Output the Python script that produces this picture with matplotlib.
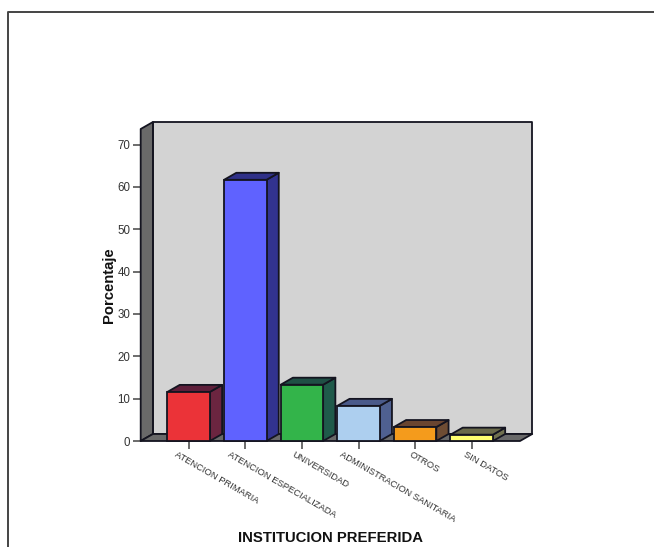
import matplotlib
matplotlib.use("Agg")
import matplotlib.pyplot as plt
from matplotlib.lines import Line2D
from matplotlib.patches import Polygon

plt.rcParams["font.family"] = ["Liberation Sans", "DejaVu Sans"]

categories = ["ATENCION PRIMARIA", "ATENCION ESPECIALIZADA", "UNIVERSIDAD",
              "ADMINISTRACION SANITARIA", "OTROS", "SIN DATOS"]
percent = [11.6, 61.7, 13.3, 8.3, 3.3, 1.5]
y_ticks = [0, 10, 20, 30, 40, 50, 60, 70]

front_colors = ["#EB3338", "#5F62FF", "#33B44A", "#ADCFEF", "#F49B1C", "#FFFF70"]
side_colors = ["#6B2540", "#323390", "#1F5A4A", "#4F6090", "#6E4C33", "#70704F"]
top_colors = ["#5E1F3A", "#2F3088", "#1F5045", "#4A5A8A", "#6A4530", "#6A6A4A"]

W, H = 654, 547
EDGE = "#141420"
LW = 1.3

fig = plt.figure(figsize=(W / 100, H / 100), dpi=100)
ax = fig.add_axes([140.7 / W, 1 - 441 / H, (520 - 140.7) / W, (441 - 129) / H])
ax.set_xlim(-0.848, 5.853)
ax.set_ylim(0, 73.7)
for s in ax.spines.values():
    s.set_visible(False)
ax.patch.set_visible(False)

# depth of the 3D box, in data units
dx = 0.216
dy = 1.654
x0, x1 = ax.get_xlim()
y1 = ax.get_ylim()[1]


def face(pts, color, z, edge=EDGE):
    ax.add_patch(Polygon(pts, closed=True, facecolor=color, edgecolor=edge,
                         linewidth=LW, joinstyle="round", clip_on=False, zorder=z))


# back wall, side wall and floor
face([(x0 + dx, dy), (x1 + dx, dy), (x1 + dx, y1 + dy), (x0 + dx, y1 + dy)], "#D3D3D3", 1)
face([(x0, 0), (x0 + dx, dy), (x0 + dx, y1 + dy), (x0, y1)], "#696969", 2)
face([(x0, 0), (x1, 0), (x1 + dx, dy), (x0 + dx, dy)], "#696969", 2)

bar_w = 0.75
for i, v in enumerate(percent):
    l = i - bar_w / 2
    r = i + bar_w / 2
    face([(r, 0), (r + dx, dy), (r + dx, v + dy), (r, v)], side_colors[i], 3)
    face([(l, v), (r, v), (r + dx, v + dy), (l + dx, v + dy)], top_colors[i], 3)
    ax.bar(i, v, width=bar_w, color=front_colors[i], edgecolor=EDGE,
           linewidth=LW, zorder=4, clip_on=False)

ax.set_yticks(y_ticks)
ax.tick_params(axis="y", length=6, width=1.1, color="#444444", labelsize=8.3,
               labelcolor="#333333", pad=1.5)
ax.set_xticks(range(len(categories)))
ax.set_xticklabels([])
ax.tick_params(axis="x", length=6, width=1.1, color="#444444")

# slanted category labels, longer names start further left of their tick
for i, name in enumerate(categories):
    ax.annotate(name, xy=(i, 0), xycoords=("data", "axes fraction"),
                xytext=(-1.0 - 0.52 * len(name), -9.6), textcoords="offset points",
                rotation=-30, rotation_mode="anchor", ha="left", va="center",
                fontsize=6.75, color="#333333")

fig.text(108.5 / W, 1 - 285 / H, "Porcentaje", rotation=90, ha="center", va="center",
         fontsize=10.7, fontweight="bold", color="#111111")
fig.text(330.5 / W, 1 - 538 / H, "INSTITUCION PREFERIDA", ha="center", va="center",
         fontsize=10.75, fontweight="bold", color="#111111")

# outer border, only top and left are in frame
fig.add_artist(Line2D([8 / W, 8 / W, 1], [0, 1 - 12 / H, 1 - 12 / H],
                      color="#444444", linewidth=1.4))

fig.savefig("out.png", dpi=100)
